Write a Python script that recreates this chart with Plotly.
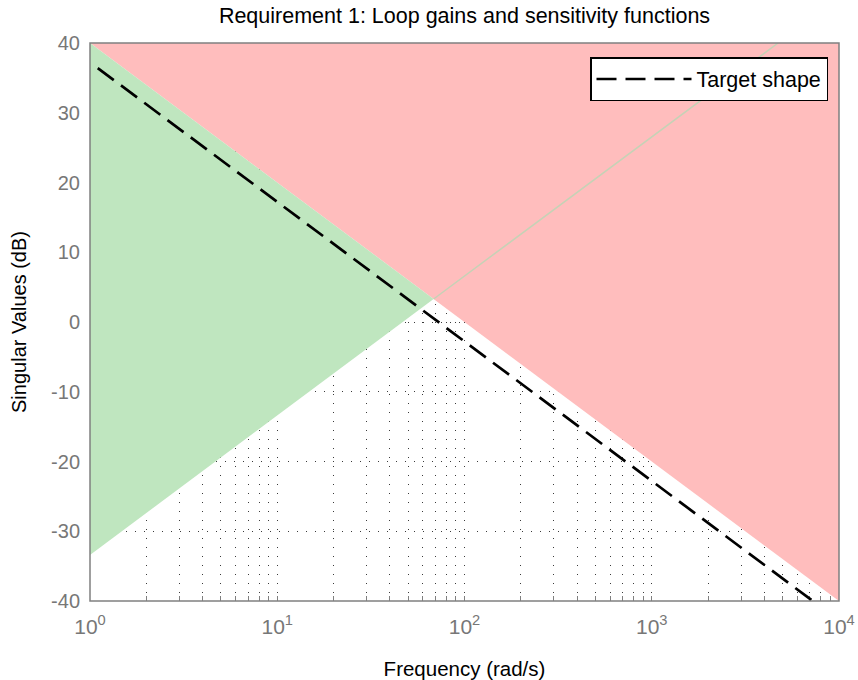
import plotly.graph_objects as go

# Frequency-domain requirement regions (rad/s, dB)
red_freq = [1, 10000, 10000]
red_db = [40, -40, 40]

green_freq = [1, 68.4, 1]
green_db = [40, 3.3, -33.4]

# Continuation of the low-frequency bound through the red region
bound_freq = [68.4, 4730]
bound_db = [3.3, 40]

# Target loop shape (integrator-like roll-off)
target_freq = [1.1, 7244]
target_db = [36.4, -40]

x_tickvals = [1, 10, 100, 1000, 10000]
x_ticktext = ["10<sup>0</sup>", "10<sup>1</sup>", "10<sup>2</sup>", "10<sup>3</sup>", "10<sup>4</sup>"]
x_minor = [m * 10 ** d for d in range(4) for m in range(2, 10)]
y_tickvals = [-40, -30, -20, -10, 0, 10, 20, 30, 40]
y_ticktext = ["-40", "-30", "-20", "-10", "0", "10", "20", "30", "40"]

FONT = "Liberation Sans, Arial, sans-serif"
GRID = "#3a3a3a"
AXIS = "#808080"

fig = go.Figure()
fig.add_trace(go.Scatter(x=red_freq, y=red_db, mode="lines", fill="toself",
                         fillcolor="#ffbdbd", line=dict(width=0),
                         hoverinfo="skip", showlegend=False))
fig.add_trace(go.Scatter(x=green_freq, y=green_db, mode="lines", fill="toself",
                         fillcolor="#bfe6bf", line=dict(width=0),
                         hoverinfo="skip", showlegend=False))
fig.add_trace(go.Scatter(x=bound_freq, y=bound_db, mode="lines",
                         line=dict(color="#c6d2b6", width=1.5),
                         hoverinfo="skip", showlegend=False))
fig.add_trace(go.Scatter(x=target_freq, y=target_db, mode="lines",
                         name="Target shape",
                         line=dict(color="black", width=2.7, dash="20px,9px")))

fig.update_layout(
    width=858, height=680,
    margin=dict(l=90, r=19, t=43, b=79, autoexpand=False),
    paper_bgcolor="white", plot_bgcolor="white",
    font=dict(family=FONT, size=20, color="black"),
    title=dict(text="Requirement 1: Loop gains and sensitivity functions",
               x=(90 + 839) / 2 / 858, xanchor="center",
               y=1 - 15 / 680, yanchor="middle",
               font=dict(family=FONT, size=21.5, color="black")),
    legend=dict(x=(828 - 90) / 749, xanchor="right", y=1 - 14 / 558, yanchor="top",
                bgcolor="white", bordercolor="black", borderwidth=1.5,
                itemwidth=95, font=dict(family=FONT, size=21.5, color="black")),
    xaxis=dict(type="log", range=[0, 4], tickvals=x_tickvals, ticktext=x_ticktext,
               ticks="inside", ticklen=5, tickcolor=AXIS, tickwidth=1,
               tickfont=dict(family=FONT, size=21, color="#777777"),
               ticklabelstandoff=11, automargin=False,
               showgrid=True, gridcolor=GRID, gridwidth=1, griddash="1px,8px",
               minor=dict(tickvals=x_minor, ticks="inside", ticklen=5,
                          tickcolor=AXIS, showgrid=True, gridcolor=GRID,
                          gridwidth=1, griddash="1px,8px"),
               showline=False, mirror="ticks", zeroline=False,
               layer="below traces",
               title=dict(text="Frequency (rad/s)", standoff=25,
                          font=dict(family=FONT, size=20.5, color="black"))),
    yaxis=dict(range=[-40, 40], tickvals=y_tickvals, ticktext=y_ticktext,
               ticks="inside", ticklen=5, tickcolor=AXIS, tickwidth=1,
               tickfont=dict(family=FONT, size=20, color="#777777"),
               ticklabelstandoff=9, automargin=False,
               showgrid=True, gridcolor=GRID, gridwidth=1, griddash="1px,8px",
               showline=False, mirror="ticks", zeroline=False,
               layer="below traces",
               title=dict(text="Singular Values (dB)", standoff=19,
                          font=dict(family=FONT, size=20, color="black"))),
)

# Axes box drawn over the shaded regions
fig.add_shape(type="rect", xref="paper", yref="paper", x0=0, y0=0, x1=1, y1=1,
              line=dict(color=AXIS, width=1.5), layer="above")

fig.write_html("out.html")
